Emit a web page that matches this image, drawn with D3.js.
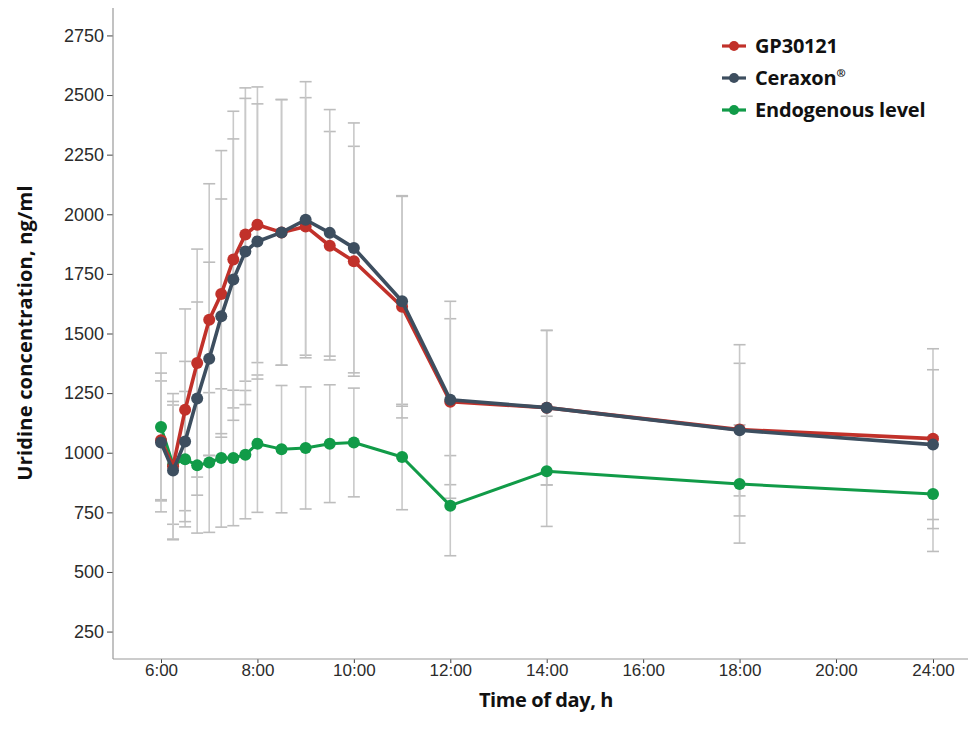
<!DOCTYPE html>
<html>
<head>
<meta charset="utf-8">
<script src="https://cdn.jsdelivr.net/npm/d3@7"></script>
<style>
  body { margin: 0; background: #fff; }
  svg { display: block; }
</style>
</head>
<body>
<svg id="chart" width="972" height="742"></svg>
<script>
// hours of day (24:00 = midnight next day)
var times = [6, 6.25, 6.5, 6.75, 7, 7.25, 7.5, 7.75, 8, 8.5, 9, 9.5, 10, 11, 12, 14, 18, 24];

var gp30121   = [1052, 943, 1180, 1376, 1558, 1666, 1810, 1915, 1956, 1924, 1949, 1868, 1803, 1612, 1214, 1189, 1097, 1059];
var gp30121Sd = [249, 305, 423, 478, 570, 601, 622, 615, 578, 557, 540, 479, 482, 466, 348, 324, 278, 377];

var ceraxon   = [1043, 925, 1047, 1227, 1394, 1572, 1726, 1844, 1886, 1924, 1977, 1922, 1859, 1635, 1222, 1189, 1094, 1034];
var ceraxonSd = [291, 290, 336, 405, 405, 492, 590, 642, 577, 557, 579, 517, 524, 440, 413, 324, 359, 314];

var endogenous   = [1108, 950, 973, 947, 959, 978, 978, 992, 1038, 1015, 1020, 1038, 1043, 982, 778, 922, 869, 827];
var endogenousSd = [310, 250, 284, 284, 293, 290, 284, 269, 288, 267, 256, 247, 228, 221, 210, 231, 248, 241];

var xTicks = [6, 8, 10, 12, 14, 16, 18, 20, 24];
var yTicks = [250, 500, 750, 1000, 1250, 1500, 1750, 2000, 2250, 2500, 2750];

var seriesNames = ["GP30121", "Ceraxon", "Endogenous level"];
var seriesColors = ["#c1312a", "#3d4e5f", "#119b48"];

var series = [
  { mean: endogenous, sd: endogenousSd, color: seriesColors[2], width: 3 },
  { mean: gp30121, sd: gp30121Sd, color: seriesColors[0], width: 3.6 },
  { mean: ceraxon, sd: ceraxonSd, color: seriesColors[1], width: 3.6 }
];

var svg = d3.select("#chart");

var plotLeft = 113, plotRight = 968, plotTop = 8, plotBottom = 659;

// the axis skips 22:00, so 20:00 -> 24:00 takes one tick step
var x = d3.scaleLinear().domain([6, 20, 24]).range([161, 836, 933]);
var y = d3.scaleLinear().domain([135, 2865]).range([plotBottom, plotTop]);

// axes
var yAxis = svg.append("g")
  .attr("transform", "translate(" + plotLeft + ",0)")
  .call(d3.axisLeft(y).tickValues(yTicks).tickSize(6).tickPadding(3).tickFormat(d3.format("d")));
yAxis.select(".domain").remove();
yAxis.selectAll(".tick line").attr("stroke", "#444");
yAxis.selectAll(".tick text")
  .attr("fill", "#2b2b2b")
  .style("font-family", "'Liberation Sans', Arial, sans-serif")
  .style("font-size", "18px");

var xAxis = svg.append("g")
  .attr("transform", "translate(0," + plotBottom + ")")
  .call(d3.axisBottom(x).tickValues(xTicks).tickSize(4).tickPadding(1)
    .tickFormat(function(d){ return d + ":00"; }));
xAxis.select(".domain").remove();
xAxis.selectAll(".tick line").attr("stroke", "#444");
xAxis.selectAll(".tick text")
  .attr("fill", "#2b2b2b")
  .style("font-family", "'Liberation Sans', Arial, sans-serif")
  .style("font-size", "17px");

svg.append("line")
  .attr("x1", plotLeft).attr("x2", plotLeft).attr("y1", plotTop).attr("y2", plotBottom)
  .attr("stroke", "#999").attr("stroke-width", 1.2);
svg.append("line")
  .attr("x1", plotLeft).attr("x2", plotRight).attr("y1", plotBottom).attr("y2", plotBottom)
  .attr("stroke", "#999").attr("stroke-width", 1.2);

// error bars (mean +/- sd)
var errG = svg.append("g");
series.forEach(function(s){
  times.forEach(function(t, i){
    var cx = x(t), hi = y(s.mean[i] + s.sd[i]), lo = y(s.mean[i] - s.sd[i]);
    errG.append("line").attr("x1", cx).attr("x2", cx).attr("y1", hi).attr("y2", lo)
      .attr("stroke", "#c9c9c9").attr("stroke-width", 1.6);
    [hi, lo].forEach(function(yy){
      errG.append("line").attr("x1", cx - 6).attr("x2", cx + 6).attr("y1", yy).attr("y2", yy)
        .attr("stroke", "#bdbdbd").attr("stroke-width", 1.6);
    });
  });
});

// lines and points
var line = d3.line()
  .x(function(d){ return x(d[0]); })
  .y(function(d){ return y(d[1]); });

series.forEach(function(s){
  var pts = times.map(function(t, i){ return [t, s.mean[i]]; });
  svg.append("path")
    .datum(pts)
    .attr("d", line)
    .attr("fill", "none")
    .attr("stroke", s.color)
    .attr("stroke-width", s.width)
    .attr("stroke-linejoin", "round");
  svg.append("g").selectAll("circle")
    .data(pts)
    .enter()
    .append("circle")
      .attr("cx", function(d){ return x(d[0]); })
      .attr("cy", function(d){ return y(d[1]); })
      .attr("r", 6)
      .attr("fill", s.color);
});

// legend
var legend = svg.selectAll(".legend")
  .data(seriesNames)
  .enter()
  .append("g")
    .attr("class", "legend")
    .attr("transform", function(d, i){ return "translate(722," + (46 + i * 32) + ")"; });
legend.append("line")
  .attr("x1", 0).attr("x2", 24)
  .attr("stroke", function(d, i){ return seriesColors[i]; })
  .attr("stroke-width", 3.2);
legend.append("circle")
  .attr("cx", 12).attr("r", 5)
  .attr("fill", function(d, i){ return seriesColors[i]; });
var legendText = legend.append("text")
  .attr("x", 33).attr("y", 7)
  .style("font-family", "'Open Sans', sans-serif")
  .style("font-weight", "bold")
  .style("font-size", "20px")
  .style("letter-spacing", "-0.2px")
  .attr("fill", "#111")
  .text(function(d){ return d; });
legendText.filter(function(d){ return d === "Ceraxon"; })
  .append("tspan")
    .attr("dy", -8)
    .style("font-size", "11px")
    .text("®");

// axis titles
svg.append("text")
  .attr("transform", "translate(32,333) rotate(-90)")
  .attr("text-anchor", "middle")
  .style("font-family", "'Open Sans', sans-serif")
  .style("font-weight", "bold")
  .style("font-size", "20px")
  .style("letter-spacing", "0.2px")
  .attr("fill", "#111")
  .text("Uridine concentration, ng/ml");

svg.append("text")
  .attr("x", 546).attr("y", 707)
  .attr("text-anchor", "middle")
  .style("font-family", "'Open Sans', sans-serif")
  .style("font-weight", "bold")
  .style("font-size", "20px")
  .style("letter-spacing", "-0.4px")
  .attr("fill", "#111")
  .text("Time of day, h");
</script>
</body>
</html>
